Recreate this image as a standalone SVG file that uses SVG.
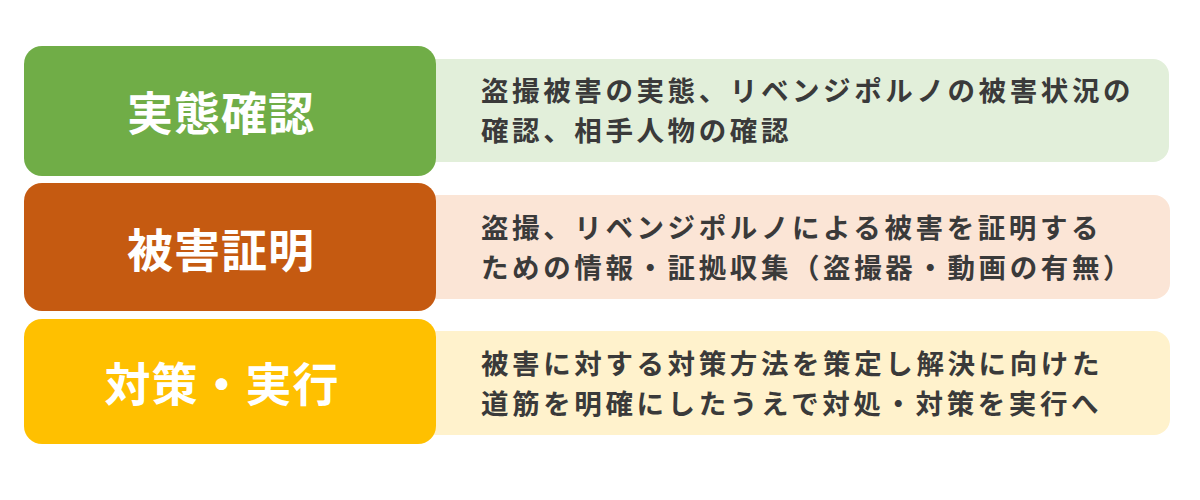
<svg xmlns="http://www.w3.org/2000/svg" width="1200" height="500" viewBox="0 0 1200 500">
<style>
.title{font-family:"Noto Sans CJK JP","Noto Sans",sans-serif;font-weight:700;font-size:46px;fill:#ffffff;text-anchor:middle;letter-spacing:1px}
.desc{font-family:"Noto Sans CJK JP","Noto Sans",sans-serif;font-weight:700;font-size:27.5px;fill:#3a3a3a;letter-spacing:3.6px}
</style>
<rect width="1200" height="500" fill="#ffffff"/>
<g id="row1">
<rect x="420" y="59" width="749" height="103" rx="16" fill="#E2EFDA"/>
<rect x="24" y="46" width="412" height="130" rx="18" fill="#70AD47"/>
<text class="title" x="221" y="130">実態確認</text>
<text class="desc" x="481" y="101">盗撮被害の実態、リベンジポルノの被害状況の</text>
<text class="desc" x="481" y="141">確認、相手人物の確認</text>
</g>
<g id="row2">
<rect x="420" y="195" width="750" height="104" rx="16" fill="#FBE5D6"/>
<rect x="24" y="183" width="412" height="128" rx="18" fill="#C55A11"/>
<text class="title" x="221" y="267">被害証明</text>
<text class="desc" x="481" y="237.5">盗撮、リベンジポルノによる被害を証明する</text>
<text class="desc" x="481" y="277.5">ための情報・証拠収集（盗撮器・動画の有無）</text>
</g>
<g id="row3">
<rect x="420" y="331" width="750" height="104" rx="16" fill="#FFF2CC"/>
<rect x="24" y="319" width="412" height="125" rx="18" fill="#FFC000"/>
<text class="title" x="222" y="401">対策・実行</text>
<text class="desc" x="481" y="373.5">被害に対する対策方法を策定し解決に向けた</text>
<text class="desc" x="481" y="413.5">道筋を明確にしたうえで対処・対策を実行へ</text>
</g>
<g id="connectors"></g>
</svg>
